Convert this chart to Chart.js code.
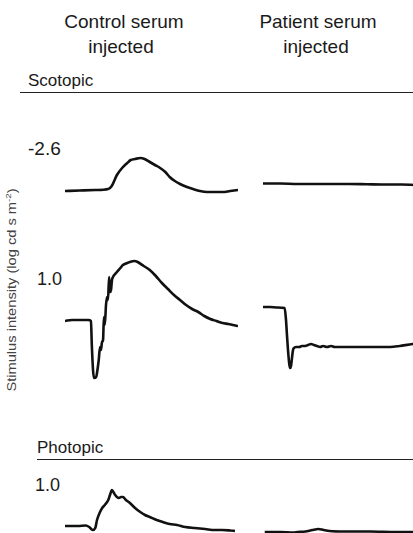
<!DOCTYPE html>
<html>
<head>
<meta charset="utf-8">
<script src="https://cdn.jsdelivr.net/npm/chart.js@4.4.0/dist/chart.umd.min.js"></script>
<style>
  html, body { margin: 0; padding: 0; background: #fff; }
  body { width: 413px; height: 533px; overflow: hidden; position: relative;
         font-family: "Liberation Sans", Arial, sans-serif; color: #1a1a1a; }
  .lbl { position: absolute; white-space: nowrap; line-height: 1; }
  .rule { position: absolute; height: 0; border-top: 1.5px solid #222; }
  canvas { position: absolute; }
  #ylab { position: absolute; left: 11px; top: 290px; font-size: 12px; color: #444;
          transform: translate(-50%, -50%) rotate(-90deg) scaleX(1.22); white-space: nowrap; }
  #ylab sup { font-size: 8px; }
</style>
</head>
<body>
<div id="ylab">Stimulus intensity (log cd s m<sup>-2</sup>)</div>
<div class="rule" style="left:20px; top:92px; width:393px;"></div>
<div class="rule" style="left:37px; top:459px; width:376px;"></div>

<script>
// time axis of each sweep, ms
// Scotopic -2.6, control serum
const ctrlDimT = [0, 17, 35, 50, 54, 60, 66, 72, 76, 81, 87, 92, 98, 104, 110, 116, 121, 127, 133, 141, 148, 156, 164, 173, 182, 191, 200];
const ctrlDimV = [-4, -2, 0, 4, 16, 60, 88, 108, 120, 124, 128, 124, 112, 100, 88, 72, 52, 36, 24, 12, 4, -4, -8, -8, -8, -4, 0];

// Scotopic -2.6, patient serum
const patDimT = [0, 20, 40, 60, 80, 100, 120, 140, 160, 180, 200];
const patDimV = [2, 2, 0, 0, 0, 0, -1, -2, -2, -4, -4];

// Scotopic 1.0, control serum
const ctrlBrightT = [0, 8, 17, 27, 30, 31, 32.4, 33.5, 36, 37, 39, 40.5, 41.6, 42.8, 44, 45, 46, 47.4, 48.6, 49.7, 51, 52, 53.2, 54.3, 55.5, 58, 60, 64, 67, 72, 75, 80, 84, 91, 98, 105, 112, 119, 126, 133, 140, 147, 154, 161, 168, 175, 182, 189, 194, 200];
const ctrlBrightV = [0, 4, 4, 4, 0, -96, -196, -228, -224, -208, -156, -104, -116, -84, -76, 16, -16, 64, 96, 84, 176, 116, 124, 164, 176, 188, 196, 212, 224, 232, 236, 240, 236, 220, 204, 180, 152, 128, 104, 84, 64, 48, 36, 20, 8, 0, -8, -12, -16, -20];

// Scotopic 1.0, patient serum
const patBrightT = [0, 8, 17, 25, 26.6, 27.7, 28.9, 30.1, 31.2, 32.4, 33.5, 34.7, 35.8, 38, 42, 45, 49, 52, 55.5, 59, 62.4, 66, 69.4, 74, 78.6, 83, 95, 112, 130, 147, 158, 173, 200];
const patBrightV = [0, 0, -2, -4, -52, -112, -172, -220, -244, -236, -204, -172, -164, -160, -160, -156, -156, -152, -148, -152, -156, -160, -156, -160, -156, -160, -160, -160, -160, -160, -156, -148, -144];

// Photopic 1.0, control serum
const ctrlPhotT = [0, 6, 15, 24, 28, 32, 35, 37, 40.5, 43, 46, 50, 52, 54.3, 56.6, 58, 60, 62.4, 64.7, 67, 70.5, 75, 81, 87, 92.5, 98, 106, 113, 121, 129.5, 139, 150, 162, 173, 181.5, 191, 196.5];
const ctrlPhotV = [0, 0, 0, 2, -4, -16, -8, 24, 56, 72, 84, 104, 124, 144, 132, 124, 116, 112, 116, 116, 104, 92, 72, 56, 44, 36, 24, 16, 8, 4, -4, -8, -12, -16, -16, -18, -20];

// Photopic 1.0, patient serum
const patPhotT = [2, 20, 35, 40, 49, 57, 64, 70, 77, 95, 124, 153, 173, 200];
const patPhotV = [0, 0, -2, 0, 2, 8, 12, 8, 4, 2, 2, 0, 0, 0];

const sweepMs = 200;
const uVperPx = 4;

// where each sweep sits on the page
const panels = [
  { left: 65,  baseline: 190, t: ctrlDimT,    v: ctrlDimV },
  { left: 263, baseline: 184, t: patDimT,     v: patDimV },
  { left: 65,  baseline: 321, t: ctrlBrightT, v: ctrlBrightV },
  { left: 263, baseline: 307, t: patBrightT,  v: patBrightV },
  { left: 65,  baseline: 526, t: ctrlPhotT,   v: ctrlPhotV },
  { left: 263, baseline: 532, t: patPhotT,    v: patPhotV }
];

const labels = [
  { text: 'Control serum', x: 124, base: 28,  size: 19, center: true },
  { text: 'injected',      x: 121, base: 53,  size: 19, center: true },
  { text: 'Patient serum', x: 318, base: 28,  size: 19, center: true },
  { text: 'injected',      x: 316, base: 53,  size: 19, center: true },
  { text: 'Scotopic',      x: 28,  base: 86,  size: 17 },
  { text: '-2.6',          x: 28,  base: 155, size: 19 },
  { text: '1.0',           x: 37,  base: 285, size: 18 },
  { text: 'Photopic',      x: 37,  base: 453, size: 17 },
  { text: '1.0',           x: 35,  base: 491, size: 18 }
];

labels.forEach(l => {
  const d = document.createElement('div');
  d.className = 'lbl';
  d.textContent = l.text;
  d.style.fontSize = l.size + 'px';
  d.style.left = l.x + 'px';
  d.style.top = (l.base - l.size * 0.8465) + 'px';
  if (l.center) d.style.transform = 'translateX(-50%)';
  document.body.appendChild(d);
});

const W = 173, half = 70;

panels.forEach(p => {
  const c = document.createElement('canvas');
  c.width = W;
  c.height = half * 2;
  c.style.left = p.left + 'px';
  c.style.top = (p.baseline - half) + 'px';
  document.body.appendChild(c);

  new Chart(c, {
    type: 'line',
    data: {
      datasets: [{
        data: p.t.map((t, i) => ({ x: t, y: p.v[i] })),
        borderColor: '#111',
        borderWidth: 2.6,
        pointRadius: 0,
        cubicInterpolationMode: 'monotone',
        fill: false
      }]
    },
    options: {
      responsive: false,
      animation: false,
      events: [],
      layout: { padding: 0 },
      plugins: { legend: { display: false }, tooltip: { enabled: false } },
      scales: {
        x: { type: 'linear', display: false, min: 0, max: sweepMs },
        y: { display: false, min: -half * uVperPx, max: half * uVperPx }
      }
    }
  });
});
</script>
</body>
</html>
